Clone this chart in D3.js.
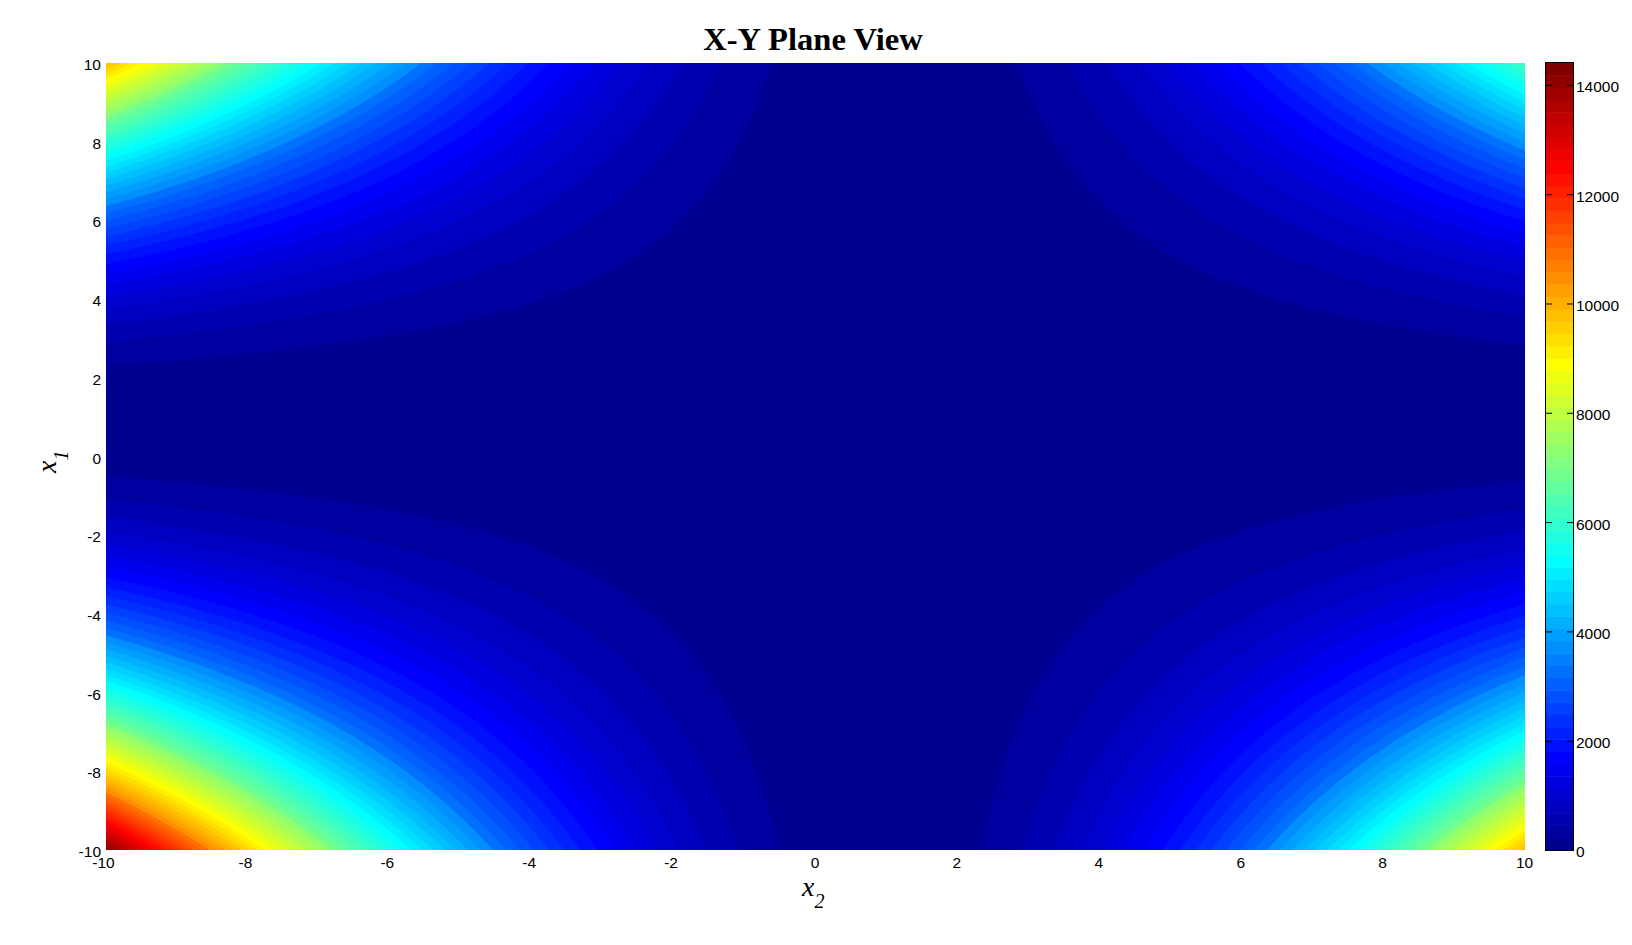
<!DOCTYPE html>
<html><head><meta charset="utf-8">
<style>html,body{margin:0;padding:0;background:#fff;overflow:hidden}svg{display:block}</style>
<script src="https://cdn.jsdelivr.net/npm/d3@7"></script>
</head><body><svg id="c" width="1632" height="945"></svg>
<script>
// Values: rows are x1 = -10..10, columns are x2 = -10..10
const x1Values = d3.range(-10, 11);
const x2Values = d3.range(-10, 11);
const surface = [
[14400,11881,9604,7569,5776,4225,2916,1849,1024,441,100,1,144,529,1156,2025,3136,4489,6084,7921,10000],
[11881,9801,7921,6241,4761,3481,2401,1521,841,361,81,1,121,441,961,1681,2601,3721,5041,6561,8281],
[9604,7921,6400,5041,3844,2809,1936,1225,676,289,64,1,100,361,784,1369,2116,3025,4096,5329,6724],
[7569,6241,5041,3969,3025,2209,1521,961,529,225,49,1,81,289,625,1089,1681,2401,3249,4225,5329],
[5776,4761,3844,3025,2304,1681,1156,729,400,169,36,1,64,225,484,841,1296,1849,2500,3249,4096],
[4225,3481,2809,2209,1681,1225,841,529,289,121,25,1,49,169,361,625,961,1369,1849,2401,3025],
[2916,2401,1936,1521,1156,841,576,361,196,81,16,1,36,121,256,441,676,961,1296,1681,2116],
[1849,1521,1225,961,729,529,361,225,121,49,9,1,25,81,169,289,441,625,841,1089,1369],
[1024,841,676,529,400,289,196,121,64,25,4,1,16,49,100,169,256,361,484,625,784],
[441,361,289,225,169,121,81,49,25,9,1,1,9,25,49,81,121,169,225,289,361],
[100,81,64,49,36,25,16,9,4,1,0,1,4,9,16,25,36,49,64,81,100],
[1,1,1,1,1,1,1,1,1,1,1,1,1,1,1,1,1,1,1,1,1],
[144,121,100,81,64,49,36,25,16,9,4,1,0,1,4,9,16,25,36,49,64],
[529,441,361,289,225,169,121,81,49,25,9,1,1,9,25,49,81,121,169,225,289],
[1156,961,784,625,484,361,256,169,100,49,16,1,4,25,64,121,196,289,400,529,676],
[2025,1681,1369,1089,841,625,441,289,169,81,25,1,9,49,121,225,361,529,729,961,1225],
[3136,2601,2116,1681,1296,961,676,441,256,121,36,1,16,81,196,361,576,841,1156,1521,1936],
[4489,3721,3025,2401,1849,1369,961,625,361,169,49,1,25,121,289,529,841,1225,1681,2209,2809],
[6084,5041,4096,3249,2500,1849,1296,841,484,225,64,1,36,169,400,729,1156,1681,2304,3025,3844],
[7921,6561,5329,4225,3249,2401,1681,1089,625,289,81,1,49,225,529,961,1521,2209,3025,3969,5041],
[10000,8281,6724,5329,4096,3025,2116,1369,784,361,100,1,64,289,676,1225,1936,2809,3844,5041,6400]
];
const axisTicks = [-10,-8,-6,-4,-2,0,2,4,6,8,10];
const barTicks = [0,2000,4000,6000,8000,10000,12000,14000];
const levelStep = 240;
const zMax = 14400;
const levels = d3.range(levelStep, zMax, levelStep);
const jetStops = ["#000090","#0000ff","#00ffff","#ffff00","#ff0000","#800000"];
const jetIndex = [0,7,23,39,55,63];

const W = {l:106, r:1525, t:63, b:850, cl:1546, cr:1573};
const svg = d3.select("#c");
const x = d3.scaleLinear().domain([-10,10]).range([W.l,W.r]);
const y = d3.scaleLinear().domain([-10,10]).range([W.b,W.t]);
const z = d3.scaleLinear().domain([0,zMax]).range([W.b,W.t]);
const jet = d3.scaleLinear().domain(jetIndex).range(jetStops).interpolate(d3.interpolateRgb);
const colorOf = v => jet(Math.min(63, Math.floor(v / zMax * 64)));

// Display resampling of the table so the filled bands draw as smooth curves
const k = 8, N = x2Values.length, M = x1Values.length;
const dx = (N-1)*k+1, dy = (M-1)*k+1;
function at(r,c){
  const rr = Math.max(0,Math.min(M-1,r)), cc = Math.max(0,Math.min(N-1,c));
  if(rr===r && cc===c) return surface[r][c];
  // quadratic continuation past the edge of the table
  if(r<0) return 3*at(0,c)-3*at(1,c)+at(2,c);
  if(r>M-1) return 3*at(M-1,c)-3*at(M-2,c)+at(M-3,c);
  if(c<0) return 3*at(r,0)-3*at(r,1)+at(r,2);
  return 3*at(r,N-1)-3*at(r,N-2)+at(r,N-3);
}
const cr = (a,b,c,d,t)=>0.5*((2*b)+(-a+c)*t+(2*a-5*b+4*c-d)*t*t+(-a+3*b-3*c+d)*t*t*t);
const fine = new Float64Array(dx*dy);
for(let j=0;j<dy;j++){
  const rf=j/k, r0=Math.min(M-2,Math.floor(rf)), tr=rf-r0;
  for(let i=0;i<dx;i++){
    const cf=i/k, c0=Math.min(N-2,Math.floor(cf)), tc=cf-c0;
    const row=[-1,0,1,2].map(o=>cr(at(r0+o,c0-1),at(r0+o,c0),at(r0+o,c0+1),at(r0+o,c0+2),tc));
    fine[j*dx+i]=cr(row[0],row[1],row[2],row[3],tr);
  }
}
const bands = d3.contours().size([dx,dy]).thresholds(levels)(fine);
const gx = d3.scaleLinear().domain([0.5,dx-0.5]).range([W.l,W.r]);
const gy = d3.scaleLinear().domain([0.5,dy-0.5]).range([W.b,W.t]);
const path = d3.geoPath(d3.geoTransform({point(a,b){this.stream.point(gx(a),gy(b));}}));

svg.append("defs").append("clipPath").attr("id","pc").append("rect")
  .attr("x",W.l).attr("y",W.t).attr("width",W.r-W.l).attr("height",W.b-W.t);
const plot = svg.append("g").attr("clip-path","url(#pc)");
plot.append("rect").attr("x",W.l).attr("y",W.t).attr("width",W.r-W.l).attr("height",W.b-W.t).attr("fill",colorOf(0));
plot.selectAll("path").data(bands).join("path").attr("d",path).attr("fill",d=>colorOf(d.value));

const font = "'Liberation Sans',Arial,sans-serif";
function style(g){
  g.select(".domain").remove();
  g.selectAll("text").attr("font-family",font).attr("font-size",15.5).attr("fill","#000");
}
svg.append("g").attr("transform",`translate(0,${W.b})`)
  .call(d3.axisBottom(x).tickValues(axisTicks).tickSize(0).tickPadding(7).tickFormat(d=>String(d)))
  .call(style).call(g=>g.selectAll("line").remove())
  .selectAll("text").attr("dx",d=>d<0?-3:-1);
svg.append("g").attr("transform",`translate(${W.l},0)`)
  .call(d3.axisLeft(y).tickValues(axisTicks).tickSize(0).tickPadding(5).tickFormat(d=>String(d)))
  .call(style).call(g=>g.selectAll("line").remove())
  .selectAll("text").attr("dy","0.42em");

// colour bar
const barBand = zMax/64;
svg.append("g").selectAll("rect").data(d3.range(64)).join("rect")
  .attr("x",W.cl).attr("width",W.cr-W.cl)
  .attr("y",i=>z((i+1)*barBand)).attr("height",i=>z(i*barBand)-z((i+1)*barBand)+0.5)
  .attr("fill",i=>jet(i));
svg.append("rect").attr("x",W.cl-.5).attr("y",W.t-.5).attr("width",W.cr-W.cl+1).attr("height",W.b-W.t+1)
  .attr("fill","none").attr("stroke","#000");
svg.append("g").attr("transform",`translate(${W.cr},0)`)
  .call(d3.axisRight(z).tickValues(barTicks).tickSize(-6).tickPadding(3).tickFormat(d=>String(d)))
  .call(style).call(g=>g.selectAll("line").attr("stroke","#000"))
  .selectAll("text").attr("dy","0.45em");
svg.append("g").attr("transform",`translate(${W.cl},0)`)
  .call(d3.axisLeft(z).tickValues(barTicks).tickSize(-6).tickFormat(""))
  .call(g=>g.select(".domain").remove()).call(g=>g.selectAll("line").attr("stroke","#000"));

// titles
const serif = "'Liberation Serif','Times New Roman',serif";
svg.append("text").attr("x",813).attr("y",50).attr("text-anchor","middle")
  .attr("font-family",serif).attr("font-weight","bold").attr("font-size",32.6).text("X-Y Plane View");
const xl = svg.append("text").attr("x",802).attr("y",896).attr("font-family",serif).attr("font-style","italic").attr("font-size",28);
xl.append("tspan").text("x");
xl.append("tspan").attr("dy",12).attr("font-size",20).text("2");
const yl = svg.append("text").attr("transform","translate(56,473) rotate(-90)").attr("font-family",serif).attr("font-style","italic").attr("font-size",28);
yl.append("tspan").text("x");
yl.append("tspan").attr("dy",12).attr("font-size",20).text("1");
</script></body></html>
